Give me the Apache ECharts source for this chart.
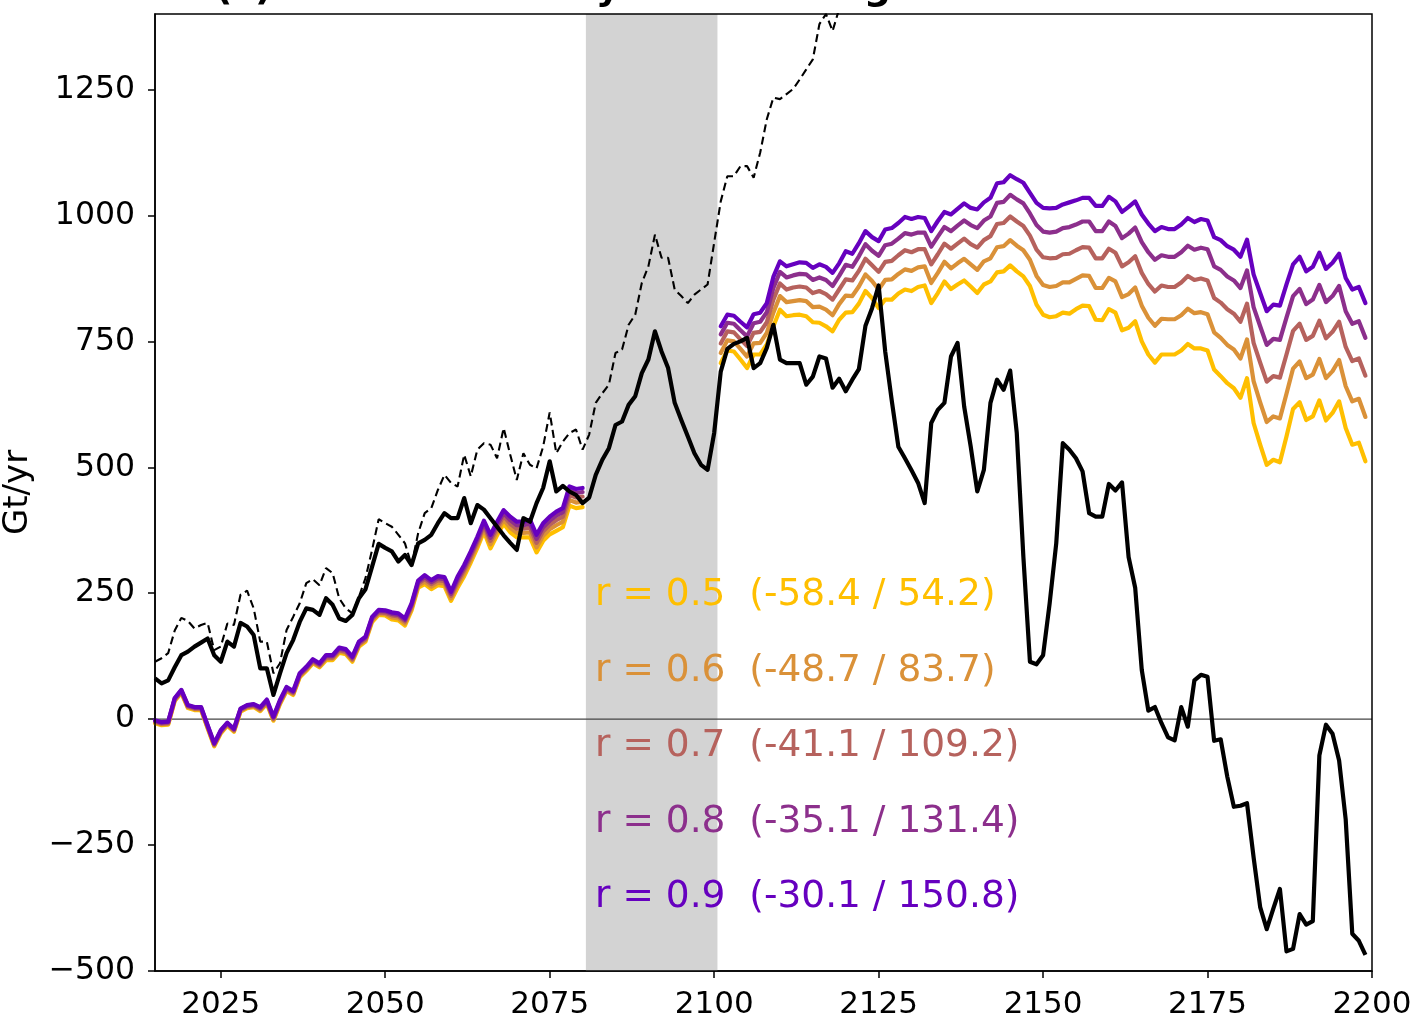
<!DOCTYPE html>
<html><head><meta charset="utf-8">
<script src="https://cdn.jsdelivr.net/npm/echarts@6/dist/echarts.min.js"></script>
<style>html,body{margin:0;padding:0;background:#fff}#c{width:1415px;height:1023px}</style>
</head><body><div id="c"></div>
<script>
// ---------- data ----------
const xTicks = [2025, 2050, 2075, 2100, 2125, 2150, 2175, 2200];
const yTicks = [-500, -250, 0, 250, 500, 750, 1000, 1250];
const bandStart = 2080.5, bandEnd = 2100.5;

const blackStart = 2015;
const blackVals = [81,71,77,103,127,134,144,152,160,127,114,154,144,191,184,167,101,101,48,91,
131,157,193,220,217,207,240,227,200,195,207,240,258,303,348,340,333,313,326,306,
349,356,366,389,409,399,399,439,389,425,416,399,382,365,350,336,399,392,429,459,
512,452,463,452,445,429,440,485,515,538,584,591,624,641,687,714,770,730,697,628,
594,561,528,505,495,568,690,735,745,750,757,697,707,737,783,714,707,707,707,664,
680,720,716,658,676,651,674,695,781,816,861,730,632,541,518,494,469,429,588,614,
628,720,747,621,541,452,495,628,674,654,692,568,323,114,109,127,230,349,548,535,
518,492,409,402,402,467,454,470,322,261,98,17,24,-8,-36,-42,24,-15,77,88,
84,-43,-40,-114,-174,-172,-167,-274,-373,-417,-376,-337,-461,-456,-387,-408,-401,-72,-11,-29,
-82,-199,-426,-440,-468];

const dashStart = 2015;
const dashVals = [114,121,131,176,201,195,180,187,191,137,144,190,187,247,255,220,154,154,91,111,
177,203,230,270,278,266,300,290,240,220,210,243,280,336,397,389,382,366,349,306,
369,409,419,455,485,469,462,525,482,535,548,545,518,578,525,475,528,505,498,541,
609,528,551,568,575,535,565,628,647,664,727,734,783,803,866,899,962,916,916,853,
840,826,843,853,863,946,1028,1078,1078,1098,1098,1075,1125,1191,1234,1231,1241,1251,1270,1290,
1310,1380,1400,1366,1410,1450];

const earlyStart = 2015;
const early09 = [-2,-6,-5,42,58,28,24,24,-12,-48,-22,-7,-19,21,28,30,24,39,5,38,
64,56,91,104,119,111,127,127,142,139,124,154,164,203,217,216,212,210,200,230,
275,286,276,284,282,253,283,306,333,362,394,366,392,415,402,392,392,396,366,389,
402,412,419,462,457,459];
const early08 = [-3,-7,-6,41,57,27,23,23,-13,-49,-23,-8,-20,20,27,29,22,37,3,36,
62,54,89,102,117,109,125,125,140,137,122,152,162,201,215,214,209,207,197,227,
272,282,272,280,278,249,278,301,328,357,389,360,386,409,395,385,385,388,358,381,
394,404,411,454,449,451];
const early07 = [-5,-9,-8,39,55,25,21,21,-15,-51,-25,-10,-22,18,25,27,20,35,1,34,
60,52,87,100,115,107,122,122,137,134,119,149,159,198,212,211,206,204,194,224,
269,278,268,276,274,245,273,296,323,352,384,354,380,403,388,378,378,380,350,373,
386,395,402,445,440,442];
const early06 = [-6,-10,-9,38,54,24,20,20,-16,-52,-26,-11,-23,17,24,26,18,33,-1,32,
58,50,85,98,113,105,120,120,135,132,117,147,157,196,210,209,202,200,190,220,
265,273,263,271,269,240,267,290,317,346,378,347,373,396,380,370,370,371,341,364,
377,385,392,435,430,432];
const early05 = [-8,-12,-11,36,52,22,18,18,-18,-54,-28,-13,-25,15,22,24,16,31,-3,30,
56,48,83,96,111,103,117,117,132,129,114,144,154,193,207,206,198,196,186,216,
261,268,258,266,264,235,261,284,311,340,372,339,365,388,371,361,361,361,331,354,
367,374,381,424,419,421];

const lateStart = 2101;
const late09 = [780,803,801,789,778,804,807,826,878,909,899,903,907,906,896,903,898,886,905,929,
924,945,969,957,949,972,975,985,997,993,997,995,969,989,1007,1002,1013,1024,1015,1012,
1026,1035,1064,1066,1080,1072,1065,1045,1025,1015,1014,1015,1022,1026,1030,1035,1035,1019,1019,1037,
1028,1007,1017,1028,1002,984,969,977,973,973,982,995,987,993,990,957,951,939,932,918,
952,883,846,810,823,821,863,903,918,889,898,926,894,906,924,876,853,858,826];
const late08 = [764,787,785,772,760,786,789,808,856,888,877,881,884,883,872,877,872,860,880,902,
898,919,943,930,920,941,944,954,965,962,966,966,938,958,977,969,980,990,981,975,
990,998,1025,1027,1041,1032,1024,1004,981,968,966,968,975,977,982,988,988,969,969,988,
979,955,964,976,947,927,912,921,918,918,927,940,932,936,933,899,892,879,871,856,
891,818,780,743,755,753,797,840,854,824,833,862,828,840,860,810,785,790,757];
const late07 = [746,770,768,754,741,767,769,788,833,865,853,857,859,857,846,850,844,833,853,873,
871,890,914,901,888,908,910,921,931,927,933,933,903,923,944,934,944,954,943,936,
951,959,983,985,998,988,979,960,932,917,915,916,923,924,931,937,936,915,915,934,
926,899,907,919,886,864,849,861,858,858,867,880,872,875,871,836,827,814,805,789,
825,747,708,670,681,678,724,771,785,753,761,791,756,769,789,739,711,716,682];
const late06 = [727,752,750,735,720,746,747,767,807,840,828,830,832,830,818,819,813,802,824,841,
840,859,883,870,853,872,873,884,893,890,897,899,866,886,908,895,905,914,903,892,
909,915,937,939,951,940,931,912,880,862,858,860,867,867,874,881,880,856,856,876,
869,838,844,857,821,797,781,795,794,794,802,815,806,808,804,768,757,743,734,716,
754,671,629,590,601,597,646,696,710,677,684,715,677,691,713,661,631,636,600];
const late05 = [707,732,730,714,697,724,724,744,780,813,800,802,803,800,788,787,780,770,793,807,
808,825,850,836,816,833,833,845,853,850,858,861,826,846,869,854,863,871,859,846,
863,869,887,889,901,889,879,860,823,803,798,800,807,805,814,821,820,793,792,814,
807,772,777,790,750,724,708,724,724,724,732,745,736,736,732,694,681,667,657,638,
677,588,545,505,515,510,561,616,629,594,601,633,593,608,631,578,545,549,512];

const rNames = ['r = 0.5', 'r = 0.6', 'r = 0.7', 'r = 0.8', 'r = 0.9'];
const rRanges = ['(-58.4 / 54.2)', '(-48.7 / 83.7)', '(-41.1 / 109.2)', '(-35.1 / 131.4)', '(-30.1 / 150.8)'];
const rLabelY = [250, 100, -50, -200, -350];
const rLabelX = 2081.9;
const titleText = '(c) Antarctic ice dynamic change';

// ---------- styles ----------
const rColors = ['#FFBF00', '#DA9138', '#B6625D', '#8C2F8C', '#6600BF'];
const FONT = 'DejaVu Sans';

function pairs(start, vals) { return vals.map((v, i) => [start + i, v]); }

const earlySets = [early05, early06, early07, early08, early09];
const lateSets = [late05, late06, late07, late08, late09];

const series = [];
series.push({
  type: 'line', data: [[2015, 0], [2200, 0]], symbol: 'none', z: 1, silent: true,
  lineStyle: { opacity: 0 },
  markArea: { silent: true, itemStyle: { color: '#d3d3d3', opacity: 1 },
    data: [[{ xAxis: bandStart }, { xAxis: bandEnd }]] }
});
series.push({
  type: 'line', data: [[2015, 0], [2200, 0]], symbol: 'none', z: 2, silent: true,
  lineStyle: { color: '#444444', width: 1.4 }
});
for (let k = 0; k < 5; k++) {
  const ls = { color: rColors[k], width: 4.2, join: 'round', cap: 'round' };
  series.push({ type: 'line', data: pairs(earlyStart, earlySets[k]), symbol: 'none', z: 3 + k, lineStyle: ls, silent: true });
  series.push({ type: 'line', data: pairs(lateStart, lateSets[k]), symbol: 'none', z: 3 + k, lineStyle: ls, silent: true });
}
series.push({
  type: 'line', data: pairs(blackStart, blackVals), symbol: 'none', z: 10, silent: true,
  lineStyle: { color: '#000', width: 4.2, join: 'round' }
});
series.push({
  type: 'line', data: pairs(dashStart, dashVals), symbol: 'none', z: 10, silent: true, clip: true,
  lineStyle: { color: '#000', width: 2.1, type: [8, 4.5] }
});

const chart = echarts.init(document.getElementById('c'), null, { renderer: 'canvas' });
const axisLineStyle = { color: '#000', width: 1.5 };
chart.setOption({
  animation: false,
  backgroundColor: '#fff',
  textStyle: { fontFamily: FONT },
  grid: { left: 155, right: 43, top: 14, bottom: 52, containLabel: false, outerBoundsMode: 'none', show: false },
  xAxis: {
    type: 'value', min: 2015, max: 2200,
    axisLine: { show: true, lineStyle: axisLineStyle, onZero: false },
    axisTick: { show: true, length: 7, lineStyle: axisLineStyle, customValues: xTicks },
    axisLabel: { customValues: xTicks, fontSize: 31, color: '#000', margin: 18, fontFamily: FONT,
      formatter: v => String(v) },
    splitLine: { show: false }
  },
  yAxis: {
    type: 'value', min: -500, max: 1400, interval: 250,
    name: 'Gt/yr', nameLocation: 'middle', nameRotate: 90, nameGap: 120,
    nameTextStyle: { fontSize: 34, color: '#000', fontFamily: FONT },
    axisLine: { show: true, lineStyle: axisLineStyle, onZero: false },
    axisTick: { show: true, length: 7, lineStyle: axisLineStyle, customValues: yTicks },
    axisLabel: { customValues: yTicks, fontSize: 31.5, color: '#000', margin: 20, fontFamily: FONT,
      formatter: v => (v < 0 ? '\u2212' + Math.abs(v) : String(v)) },
    splitLine: { show: false }
  },
  series: series
});

// frame (top/right spines) + texts positioned via the chart's own scales
const tl = chart.convertToPixel({ gridIndex: 0 }, [2015, 1400]);
const br = chart.convertToPixel({ gridIndex: 0 }, [2200, -500]);
const graphics = [{
  type: 'rect', z: 100, silent: true,
  shape: { x: tl[0], y: tl[1], width: br[0] - tl[0], height: br[1] - tl[1] },
  style: { fill: null, stroke: '#000', lineWidth: 1.5 }
}];
for (let k = 0; k < 5; k++) {
  const p = chart.convertToPixel({ gridIndex: 0 }, [rLabelX, rLabelY[k]]);
  graphics.push({
    type: 'text', z: 50, silent: true, x: p[0], y: p[1] + 2,
    style: { text: rNames[k] + '  ' + rRanges[k], fill: rColors[k], font: '37.5px "DejaVu Sans"',
      align: 'left', verticalAlign: 'middle' }
  });
}
graphics.push({
  type: 'text', z: 50, silent: true, x: 215, y: 8,
  style: { text: titleText, fill: '#000', font: 'bold 38px "DejaVu Sans"', align: 'left', verticalAlign: 'bottom' }
});
chart.setOption({ graphic: graphics });
</script>
</body></html>
